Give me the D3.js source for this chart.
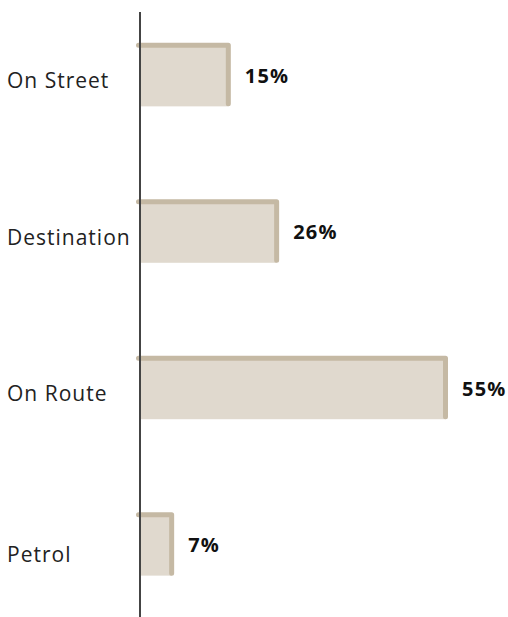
<!DOCTYPE html>
<html>
<head>
<meta charset="utf-8">
<script src="https://cdn.jsdelivr.net/npm/d3@7"></script>
<style>
	html, body { margin: 0; padding: 0; background: #fff; }
	svg { display: block; }
	.cat { font-family: "Open Sans", Lato, sans-serif; font-size: 21px; fill: #222; letter-spacing: 1px; }
	.val { font-family: "Open Sans", Lato, sans-serif; font-size: 20px; font-weight: 700; fill: #111; letter-spacing: 1.2px; }
</style>
</head>
<body>
<div id="chart"></div>
<script>
'use strict'
// categories top to bottom
var categories = ["On Street", "Destination", "On Route", "Petrol"];
// bar lengths (share of charging)
var values = [15.9, 24.6, 55, 5.7];
// printed labels next to the bars
var valueLabels = ["15%", "26%", "55%", "7%"];

var W = 508, H = 617;
var axisX = 140;

var svg = d3.select("#chart").append("svg")
			.attr("width", W)
			.attr("height", H);

var x = d3.scaleLinear().domain([0, 55]).range([axisX, 445.5]);
var y = d3.scaleBand().domain(categories).range([0, 621]).paddingInner(0.61).paddingOuter(0.29);

var barH = 61;

var rows = svg.selectAll(".row")
			.data(categories)
			.enter().append("g")
			.attr("class", "row");

// bar fill
rows.append("rect")
	.attr("x", axisX)
	.attr("y", function(d){ return y(d); })
	.attr("width", function(d, i){ return x(values[i]) - axisX; })
	.attr("height", barH)
	.attr("fill", "#e0d9ce");

// top + right edge
rows.append("path")
	.attr("d", function(d, i){
		var t = y(d), r = x(values[i]);
		return "M" + (axisX - 1.5) + "," + t + "H" + r + "V" + (t + barH - 2.5);
	})
	.attr("fill", "none")
	.attr("stroke", "#c5b9a4")
	.attr("stroke-width", 5)
	.attr("stroke-linecap", "round")
	.attr("stroke-linejoin", "round");

rows.append("text")
	.attr("class", "val")
	.attr("x", function(d, i){ return x(values[i]) + 16.5; })
	.attr("y", function(d){ return y(d) + barH / 2; })
	.attr("dy", "0.36em")
	.text(function(d, i){ return valueLabels[i]; });

rows.append("text")
	.attr("class", "cat")
	.attr("x", 7)
	.attr("y", function(d, i){ return y(d) + barH / 2 + (i === 3 ? 9 : 5); })
	.attr("dy", "0.36em")
	.text(function(d){ return d; });

// the axis line
svg.append("line")
	.attr("x1", axisX).attr("x2", axisX)
	.attr("y1", 12).attr("y2", H)
	.attr("stroke", "#444")
	.attr("stroke-width", 2);
</script>
</body>
</html>
